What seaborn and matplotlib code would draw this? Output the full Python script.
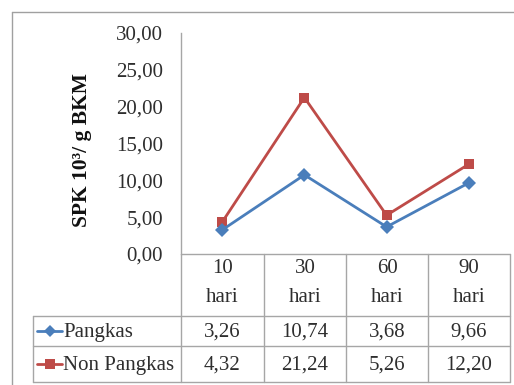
import matplotlib
matplotlib.use("Agg")
import matplotlib.pyplot as plt
from matplotlib.lines import Line2D
import seaborn as sns
import pandas as pd

# Sampling days and measured values (SPK 10^3 / g BKM)
categories = ["10\nhari", "30\nhari", "60\nhari", "90\nhari"]
pangkas = [3.26, 10.74, 3.68, 9.66]
non_pangkas = [4.32, 21.24, 5.26, 12.20]
series_names = ["Pangkas", "Non Pangkas"]
y_ticks = [0, 5, 10, 15, 20, 25, 30]

colors = {"Pangkas": "#4A7EBB", "Non Pangkas": "#BE4B48"}
markers = {"Pangkas": "D", "Non Pangkas": "s"}
grid_col = "#A6A6A6"
text_col = "#2E2E2E"

sns.set_theme(style="white")
plt.rcParams["font.family"] = ["Liberation Serif", "DejaVu Serif"]

W, H = 514, 385
fig = plt.figure(figsize=(W / 100, H / 100), dpi=100)
fig.patch.set_facecolor("white")


def fx(px):
    return px / W


def fy(py):
    return 1 - py / H


def hline(y, x0, x1, **kw):
    fig.add_artist(Line2D([fx(x0), fx(x1)], [fy(y), fy(y)], color=kw.get("color", grid_col),
                          lw=kw.get("lw", 1.0), transform=fig.transFigure))


def vline(x, y0, y1, **kw):
    fig.add_artist(Line2D([fx(x), fx(x)], [fy(y0), fy(y1)], color=kw.get("color", grid_col),
                          lw=kw.get("lw", 1.0), transform=fig.transFigure))


# Plot area
left, right, top, bottom = 181, 510, 33, 254
ax = fig.add_axes([fx(left), fy(bottom), fx(right - left), (bottom - top) / H])

df = pd.DataFrame({
    "hari": categories * 2,
    "pos": list(range(len(categories))) * 2,
    "nilai": non_pangkas + pangkas,
    "seri": ["Non Pangkas"] * 4 + ["Pangkas"] * 4,
})

sns.lineplot(data=df, x="pos", y="nilai", hue="seri", style="seri",
             hue_order=["Non Pangkas", "Pangkas"], style_order=["Non Pangkas", "Pangkas"],
             palette=colors, markers=markers, dashes=False, lw=2.0,
             markersize=7.5, markeredgewidth=0, legend=False, ax=ax)

ax.set_xlim(-0.5, len(categories) - 0.5)
ax.set_ylim(0, 30)
ax.set_yticks(y_ticks)
ax.set_yticklabels([f"{v:.2f}".replace(".", ",") for v in y_ticks], fontsize=15, color=text_col)
ax.tick_params(axis="y", length=0, pad=13)
ax.set_xticks([])
ax.set_xlabel("")
ax.set_ylabel("")
for s in ["top", "right", "bottom"]:
    ax.spines[s].set_visible(False)
ax.spines["left"].set_color(grid_col)
ax.spines["left"].set_linewidth(1.0)
ax.patch.set_alpha(0)

fig.text(fx(82), fy(150), "SPK 10³/ g BKM", rotation=90, fontsize=15.5, fontweight="bold",
         ha="center", va="center", color="#111111")

# Outer chart frame (top and left edges)
hline(12, 12, 514, color="#A0A0A0")
vline(12, 12, 385, color="#A0A0A0")

# Data table beneath the plot
col_edges = [181, 264, 346, 428, 510]
row_edges = [254, 316, 346, 382]
table_left = 33
hline(row_edges[0], col_edges[0], col_edges[-1])
for y in row_edges[1:]:
    hline(y, table_left, col_edges[-1])
for x in col_edges:
    vline(x, row_edges[0], row_edges[-1])
vline(table_left, row_edges[1], row_edges[-1])

centers = [(a + b) / 2 for a, b in zip(col_edges[:-1], col_edges[1:])]
for cx, lab in zip(centers, categories):
    fig.text(fx(cx), fy(283), lab, ha="center", va="center",
             fontsize=15, color=text_col, linespacing=1.65)

for r, (name, vals) in enumerate(zip(series_names, [pangkas, non_pangkas])):
    cy = (row_edges[r + 1] + row_edges[r + 2]) / 2 + 1.5
    for cx, v in zip(centers, vals):
        fig.text(fx(cx), fy(cy), f"{v:.2f}".replace(".", ","), ha="center", va="center",
                 fontsize=15, color=text_col)
    # legend key inside the row header
    fig.add_artist(Line2D([fx(37), fx(62)], [fy(cy - 1.5), fy(cy - 1.5)], color=colors[name], lw=2.0,
                          transform=fig.transFigure))
    fig.add_artist(Line2D([fx(49.5)], [fy(cy - 1.5)], marker=markers[name], color=colors[name],
                          markersize=6 if name == "Pangkas" else 7, markeredgewidth=0,
                          transform=fig.transFigure))
    fig.text(fx(63), fy(cy), name, ha="left", va="center", fontsize=15, color=text_col)

fig.savefig("out.png", dpi=100)
